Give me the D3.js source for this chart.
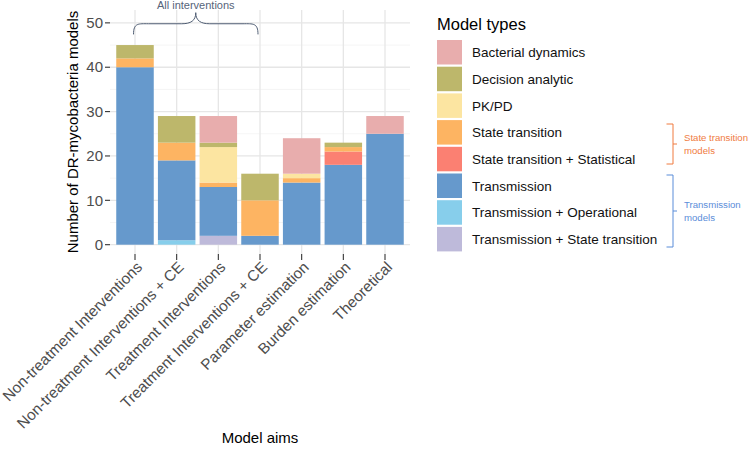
<!DOCTYPE html>
<html>
<head>
<meta charset="utf-8">
<script src="https://cdn.jsdelivr.net/npm/d3@7"></script>
<style>
  html, body { margin: 0; padding: 0; background: #fff; }
  svg { display: block; font-family: "Liberation Sans", Arial, Helvetica, sans-serif; }
</style>
</head>
<body>
<svg id="chart" width="750" height="454"></svg>
<script>
// ---- Data ----
const aims = [
  "Non-treatment Interventions",
  "Non-treatment Interventions + CE",
  "Treatment Interventions",
  "Treatment Interventions + CE",
  "Parameter estimation",
  "Burden estimation",
  "Theoretical"
];
const modelTypes = [
  "Bacterial dynamics",
  "Decision analytic",
  "PK/PD",
  "State transition",
  "State transition + Statistical",
  "Transmission",
  "Transmission + Operational",
  "Transmission + State transition"
];
const typeColors = ["#E8ADAD", "#BDB76B", "#FCE5A1", "#FDB462", "#FB8072", "#6699CC", "#87CEEB", "#BEBADA"];
// counts per model type, in the order of `aims`
const bacterialDynamics   = [0, 0, 6, 0, 8, 0, 4];
const decisionAnalytic    = [3, 6, 1, 6, 0, 1, 0];
const pkpd                = [0, 0, 8, 0, 1, 0, 0];
const stateTransition     = [2, 4, 1, 8, 1, 1, 0];
const stateTransitionStat = [0, 0, 0, 0, 0, 3, 0];
const transmission        = [40, 18, 11, 2, 14, 18, 25];
const transmissionOper    = [0, 1, 0, 0, 0, 0, 0];
const transmissionState   = [0, 0, 2, 0, 0, 0, 0];
const yTicks = [0, 10, 20, 30, 40, 50];
const yMinor = [5, 15, 25, 35, 45];

const seriesValues = [bacterialDynamics, decisionAnalytic, pkpd, stateTransition,
  stateTransitionStat, transmission, transmissionOper, transmissionState];

// table for d3.stack
const table = aims.map((a, i) => {
  const row = { aim: a };
  modelTypes.forEach((t, j) => row[t] = seriesValues[j][i]);
  return row;
});
// stack bottom-up: reverse of legend order
const stackKeys = modelTypes.slice().reverse();
const stacked = d3.stack().keys(stackKeys)(table);
const color = d3.scaleOrdinal().domain(modelTypes).range(typeColors);

// ---- Layout ----
const svg = d3.select("#chart");
const panel = { left: 110, right: 410, top: 10, bottom: 254 };

// ggplot-like discrete scale: 0.6 expansion each side, bar width 0.9
const x = d3.scalePoint().domain(aims)
  .range([panel.left, panel.right]).padding(0.6);
const xc = d => x(d);
const barW = x.step() * 0.9;

const y = d3.scaleLinear().domain([-2.1, 52.9]).range([panel.bottom, panel.top]);

// grid
const grid = svg.append("g");
grid.selectAll("line.minor").data(yMinor).join("line")
  .attr("x1", panel.left).attr("x2", panel.right)
  .attr("y1", d => y(d)).attr("y2", d => y(d))
  .attr("stroke", "#f0f0f0").attr("stroke-width", 0.7);
grid.selectAll("line.major").data(yTicks).join("line")
  .attr("x1", panel.left).attr("x2", panel.right)
  .attr("y1", d => y(d)).attr("y2", d => y(d))
  .attr("stroke", "#e6e6e6").attr("stroke-width", 1.3);
grid.selectAll("line.vert").data(aims).join("line")
  .attr("x1", d => xc(d)).attr("x2", d => xc(d))
  .attr("y1", panel.top).attr("y2", panel.bottom)
  .attr("stroke", "#e6e6e6").attr("stroke-width", 1.3);

// bars
svg.append("g").selectAll("g").data(stacked).join("g")
  .attr("fill", d => color(d.key))
  .selectAll("rect").data(d => d.filter(s => s[1] - s[0] > 0)).join("rect")
  .attr("x", d => xc(d.data.aim) - barW / 2)
  .attr("width", barW)
  .attr("y", d => y(d[1]))
  .attr("height", d => y(d[0]) - y(d[1]));

// y axis
const yAxis = svg.append("g");
yAxis.selectAll("line").data(yTicks).join("line")
  .attr("x1", panel.left - 5).attr("x2", panel.left)
  .attr("y1", d => y(d)).attr("y2", d => y(d))
  .attr("stroke", "#333").attr("stroke-width", 1.1);
yAxis.selectAll("text").data(yTicks).join("text")
  .attr("x", panel.left - 7).attr("y", d => y(d))
  .attr("dy", "0.35em").attr("text-anchor", "end")
  .attr("font-size", 15).attr("fill", "#4d4d4d")
  .text(d => d);

// x axis
const xAxis = svg.append("g");
xAxis.selectAll("line").data(aims).join("line")
  .attr("x1", d => xc(d)).attr("x2", d => xc(d))
  .attr("y1", panel.bottom).attr("y2", panel.bottom + 6)
  .attr("stroke", "#333").attr("stroke-width", 1.1);
xAxis.selectAll("text").data(aims).join("text")
  .attr("transform", d => `translate(${xc(d)},${panel.bottom + 6}) rotate(-45)`)
  .attr("dy", "0.75em").attr("text-anchor", "end")
  .attr("font-size", 15.3).attr("fill", "#4d4d4d")
  .text(d => d);

// axis titles
svg.append("text")
  .attr("x", (panel.left + panel.right) / 2).attr("y", 443)
  .attr("text-anchor", "middle").attr("font-size", 15).attr("fill", "#000")
  .text("Model aims");
svg.append("text")
  .attr("transform", `translate(78,${(panel.top + panel.bottom) / 2}) rotate(-90)`)
  .attr("text-anchor", "middle").attr("font-size", 15).attr("fill", "#000")
  .text("Number of DR-mycobacteria models");

// brace "All interventions"
const bx0 = xc(aims[0]) - 1.5, bx1 = xc(aims[3]) - 2;
const bm = (bx0 + bx1) / 2;
const yEnd = y(47.4), yFlat = y(49.8), yTip = y(52.3);
const bracePath = `M${bx0},${yEnd} C${bx0},${yFlat - 1} ${bx0 + 5},${yFlat} ${bx0 + 15},${yFlat}
  L${bm - 14},${yFlat} C${bm - 5},${yFlat} ${bm},${yFlat - 3} ${bm},${yTip}
  C${bm},${yFlat - 3} ${bm + 5},${yFlat} ${bm + 14},${yFlat}
  L${bx1 - 15},${yFlat} C${bx1 - 5},${yFlat} ${bx1},${yFlat - 1} ${bx1},${yEnd}`;
svg.append("path").attr("d", bracePath)
  .attr("fill", "none").attr("stroke", "#4f5d73").attr("stroke-width", 1);
svg.append("text").attr("x", bm).attr("y", 8.5)
  .attr("text-anchor", "middle").attr("font-size", 11).attr("fill", "#56647a")
  .text("All interventions");

// legend
const lg = svg.append("g");
const lgX = 437, lgY = 40, lgStep = 26.7, key = 25;
lg.append("text").attr("x", lgX).attr("y", 29.5)
  .attr("font-size", 16.5).attr("fill", "#000").text("Model types");
lg.selectAll("rect").data(modelTypes).join("rect")
  .attr("x", lgX).attr("y", (d, i) => lgY + i * lgStep)
  .attr("width", key).attr("height", key - 0.5)
  .attr("fill", d => color(d));
lg.selectAll("text.lab").data(modelTypes).join("text")
  .attr("class", "lab")
  .attr("x", lgX + 35).attr("y", (d, i) => lgY + i * lgStep + key / 2)
  .attr("dy", "0.35em").attr("font-size", 13.5).attr("fill", "#111")
  .text(d => d);

// side brackets
function bracket(yTop, yBot, col, lines) {
  const xv = 673, xl = 666.5, ym = (yTop + yBot) / 2;
  svg.append("path")
    .attr("d", `M${xl},${yTop} L${xv},${yTop} L${xv},${yBot} L${xl},${yBot} M${xv},${ym} L${xv + 4},${ym}`)
    .attr("fill", "none").attr("stroke", col).attr("stroke-width", 1);
  lines.forEach((t, i) => {
    svg.append("text").attr("x", 684).attr("y", ym - 6 + i * 12.5)
      .attr("dy", "0.35em").attr("font-size", 9.6).attr("fill", col).text(t);
  });
}
bracket(124, 164, "#F07B3F", ["State transition", "models"]);
bracket(175, 247, "#5B8DD9", ["Transmission", "models"]);
</script>
</body>
</html>
